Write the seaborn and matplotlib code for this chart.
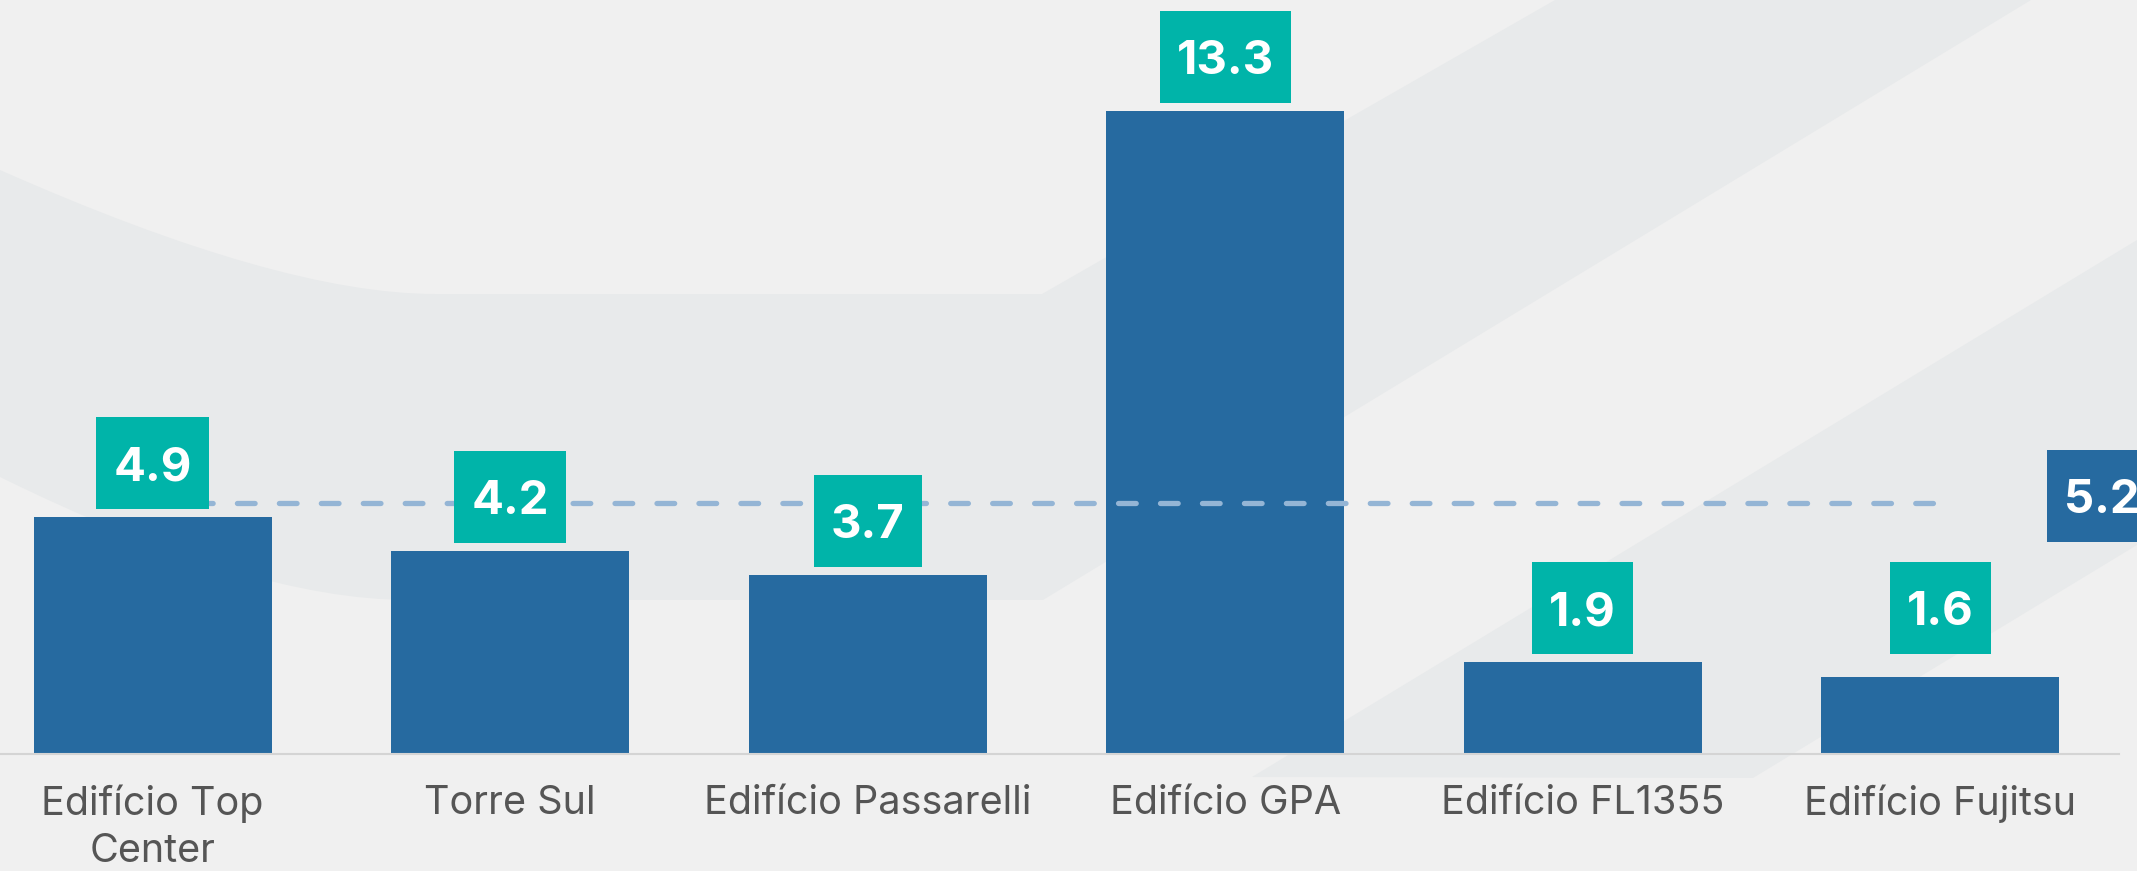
import matplotlib
matplotlib.use("Agg")
import matplotlib.pyplot as plt
from matplotlib.patches import PathPatch, Polygon, Rectangle
from matplotlib.path import Path
import seaborn as sns

categories = ["Edifício Top\nCenter", "Torre Sul", "Edifício Passarelli",
              "Edifício GPA", "Edifício FL1355", "Edifício Fujitsu"]
values = [4.9, 4.2, 3.7, 13.3, 1.9, 1.6]
average = 5.2

bar_color = "#266aa0"
label_color = "#00b4a9"
avg_color = "#94b5d5"
band_color = "#e8eaeb"

sns.set_style("white")
plt.rcParams['font.family'] = ['Inter', 'DejaVu Sans']

W, H = 2137, 871
fig = plt.figure(figsize=(W / 100, H / 100), dpi=100)
fig.patch.set_facecolor("#f0f0f0")

# decorative background bands (pixel space)
bg = fig.add_axes([0, 0, 1, 1], zorder=0)
bg.set_xlim(0, W)
bg.set_ylim(H, 0)
bg.axis("off")
M, C3, L, CL = Path.MOVETO, Path.CURVE3, Path.LINETO, Path.CLOSEPOLY
band1 = Path([(0, 170), (280, 294), (435, 294), (1042, 294), (1555, 0), (2031, 0),
              (1043, 600), (409, 600), (250, 600), (0, 477), (0, 170)],
             [M, C3, C3, L, L, L, L, L, C3, C3, CL])
bg.add_patch(PathPatch(band1, fc=band_color, ec="none"))
bg.add_patch(Polygon([(1252, 777), (2137, 240), (2137, 545), (1753, 778)],
                     closed=True, fc=band_color, ec="none"))

ax_w, ax_h = 2119, 754
ax = fig.add_axes([0, 117 / H, ax_w / W, ax_h / H], zorder=1)
ax.patch.set_alpha(0)
sns.barplot(x=categories, y=values, color=bar_color, saturation=1, width=0.666,
            linewidth=0, edgecolor="none", ax=ax)
xlim = (-0.427, 5.5)
ylim = (0, 15.6)
ax.set_xlim(*xlim)
ax.set_ylim(*ylim)
ppu_x = ax_w / (xlim[1] - xlim[0])
ppu_y = ax_h / (ylim[1] - ylim[0])

ax.plot([0, len(values) - 1], [average, average], color=avg_color, lw=3.8,
        dashes=(3.35, 4.6), dash_capstyle="round", zorder=3)

renderer = fig.canvas.get_renderer()
fs = 34
cap_half = 0.727 * fs / 2
box_h, gap, hpad = 92, 8, 17


def boxed(x, yc, txt, fc, ha="center"):
    t = ax.annotate(txt, (x, yc), xytext=(0, -cap_half), textcoords="offset points",
                    ha=ha, va="baseline", fontsize=fs, fontweight="bold",
                    color="white", zorder=5, annotation_clip=False)
    w = t.get_window_extent(renderer).width
    x0 = x - (w / 2 + hpad) / ppu_x if ha == "center" else x - hpad / ppu_x
    ax.add_patch(Rectangle((x0, yc - box_h / 2 / ppu_y), (w + 2 * hpad) / ppu_x,
                           box_h / ppu_y, fc=fc, ec="none", zorder=4, clip_on=False))


for i, v in enumerate(values):
    boxed(i, max(v, 1.9) + (gap + box_h / 2) / ppu_y, f"{v:.1f}", label_color)

boxed(5.30 + hpad / ppu_x, average + 0.14, f"{average:.1f}", bar_color, ha="left")

sns.despine(ax=ax, left=True)
ax.spines["bottom"].set_color("#d4d4d4")
ax.spines["bottom"].set_linewidth(1.5)
ax.set_yticks([])
ax.set_xlabel("")
ax.set_ylabel("")
ax.tick_params(axis="x", length=0, pad=22, labelsize=28.5, labelcolor="#555555")
for lab in ax.get_xticklabels():
    lab.set_linespacing(1.35)

plt.savefig("out.png", dpi=100, facecolor=fig.get_facecolor())
